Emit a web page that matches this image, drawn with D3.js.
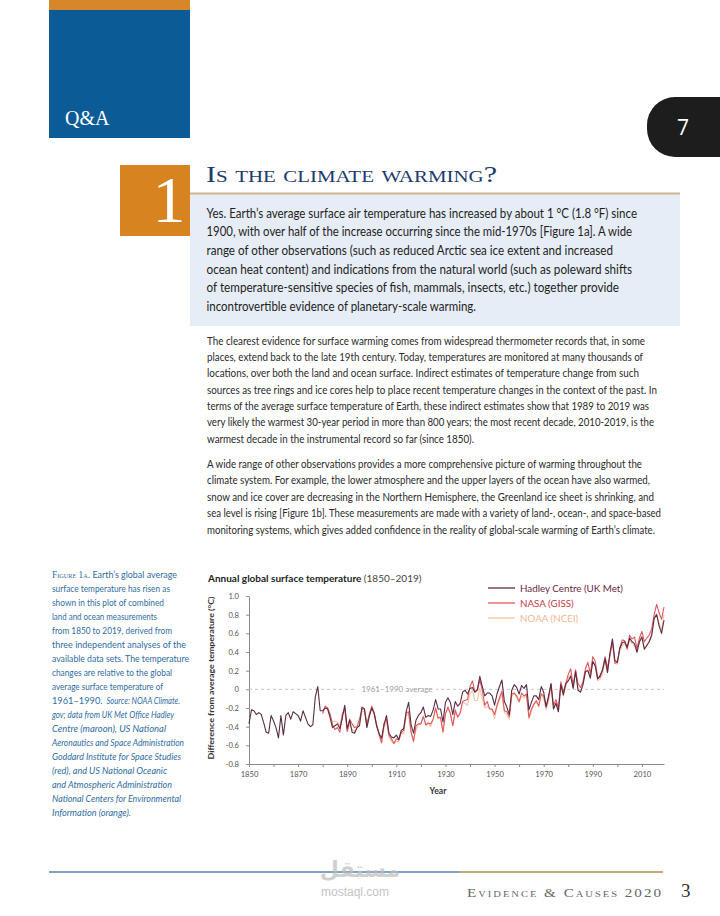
<!DOCTYPE html>
<html><head><meta charset="utf-8">
<script src="https://cdn.jsdelivr.net/npm/d3@7"></script>
<style>
html,body{margin:0;padding:0;background:#fff;}
svg{display:block;}
</style></head>
<body>
<svg id="page" width="720" height="916"></svg>
<script>
// ---------- DATA ----------
const hadleyStart = 1850;
const hadley = [
-0.37,-0.22,-0.23,-0.27,-0.25,-0.27,-0.36,-0.46,-0.47,-0.28,
-0.34,-0.41,-0.52,-0.28,-0.49,-0.28,-0.25,-0.32,-0.24,-0.26,
-0.28,-0.34,-0.23,-0.30,-0.37,-0.40,-0.38,-0.08,0.03,-0.23,
-0.23,-0.20,-0.21,-0.30,-0.41,-0.39,-0.37,-0.42,-0.31,-0.17,
-0.42,-0.33,-0.46,-0.47,-0.41,-0.39,-0.19,-0.21,-0.41,-0.29,
-0.20,-0.26,-0.40,-0.48,-0.52,-0.38,-0.28,-0.47,-0.51,-0.52,
-0.49,-0.54,-0.44,-0.42,-0.24,-0.14,-0.38,-0.47,-0.33,-0.28,
-0.25,-0.19,-0.30,-0.28,-0.29,-0.22,-0.11,-0.21,-0.21,-0.35,
-0.14,-0.09,-0.14,-0.27,-0.13,-0.18,-0.15,-0.03,-0.01,-0.05,
0.01,0.02,-0.03,0.00,0.14,0.03,-0.07,-0.04,-0.04,-0.07,
-0.17,-0.05,0.03,0.10,-0.13,-0.19,-0.27,-0.01,0.05,0.02,
-0.05,0.04,0.01,0.05,-0.22,-0.14,-0.07,-0.07,-0.11,0.03,
-0.03,-0.19,-0.07,0.06,-0.21,-0.15,-0.24,0.05,-0.06,0.06,
0.09,0.14,0.01,0.19,-0.01,-0.03,0.05,0.19,0.20,0.12,
0.30,0.25,0.11,0.15,0.21,0.33,0.18,0.39,0.54,0.31,
0.29,0.44,0.50,0.51,0.45,0.55,0.51,0.49,0.40,0.51,
0.56,0.43,0.47,0.51,0.58,0.76,0.80,0.68,0.60,0.74];

const nasaStart = 1880;
const nasa = [
-0.26,-0.18,-0.20,-0.26,-0.38,-0.43,-0.41,-0.46,-0.27,-0.20,
-0.45,-0.32,-0.37,-0.41,-0.40,-0.32,-0.21,-0.21,-0.37,-0.27,
-0.18,-0.25,-0.38,-0.47,-0.57,-0.36,-0.32,-0.49,-0.53,-0.58,
-0.53,-0.54,-0.46,-0.44,-0.25,-0.24,-0.46,-0.56,-0.39,-0.37,
-0.37,-0.29,-0.38,-0.36,-0.37,-0.32,-0.20,-0.31,-0.30,-0.46,
-0.26,-0.19,-0.26,-0.39,-0.22,-0.30,-0.25,-0.13,-0.12,-0.11,
0.03,0.09,-0.03,-0.01,0.10,-0.01,-0.17,-0.13,-0.21,-0.21,
-0.27,-0.17,-0.09,-0.02,-0.23,-0.24,-0.29,-0.05,-0.04,-0.07,
-0.13,-0.04,-0.07,-0.05,-0.30,-0.21,-0.16,-0.12,-0.18,-0.05,
-0.07,-0.18,-0.09,0.06,-0.17,-0.11,-0.20,0.08,-0.03,0.06,
0.16,0.22,0.04,0.21,0.06,0.02,0.08,0.22,0.29,0.17,
0.35,0.30,0.12,0.13,0.21,0.35,0.23,0.36,0.51,0.28,
0.29,0.44,0.53,0.52,0.43,0.58,0.54,0.56,0.44,0.55,
0.62,0.51,0.55,0.58,0.65,0.80,0.91,0.82,0.75,0.88];

const noaaStart = 1880;
const noaa = [
-0.25,-0.20,-0.20,-0.28,-0.35,-0.34,-0.35,-0.39,-0.26,-0.22,
-0.45,-0.38,-0.43,-0.45,-0.41,-0.36,-0.23,-0.24,-0.39,-0.25,
-0.20,-0.28,-0.38,-0.50,-0.58,-0.41,-0.34,-0.51,-0.56,-0.58,
-0.56,-0.56,-0.46,-0.48,-0.29,-0.25,-0.46,-0.53,-0.44,-0.38,
-0.37,-0.29,-0.39,-0.37,-0.40,-0.32,-0.21,-0.30,-0.30,-0.45,
-0.26,-0.21,-0.25,-0.39,-0.25,-0.29,-0.26,-0.14,-0.15,-0.17,
-0.05,-0.01,-0.12,-0.12,0.01,-0.10,-0.20,-0.18,-0.21,-0.22,
-0.31,-0.19,-0.12,-0.05,-0.25,-0.27,-0.32,-0.08,-0.04,-0.09,
-0.14,-0.07,-0.09,-0.06,-0.32,-0.24,-0.16,-0.14,-0.18,-0.05,
-0.10,-0.22,-0.12,0.02,-0.21,-0.14,-0.24,0.04,-0.07,0.03,
0.12,0.16,0.02,0.19,-0.01,-0.03,0.04,0.19,0.21,0.13,
0.29,0.25,0.09,0.11,0.17,0.31,0.18,0.38,0.50,0.28,
0.27,0.41,0.47,0.49,0.43,0.53,0.49,0.47,0.39,0.50,
0.57,0.44,0.48,0.52,0.59,0.77,0.81,0.71,0.63,0.80];

const seriesNames = ["Hadley Centre (UK Met)", "NASA (GISS)", "NOAA (NCEI)"];
const yTickValues = [1.0,0.8,0.6,0.4,0.2,0,-0.2,-0.4,-0.6,-0.8];
const yTickLabels = ["1.0","0.8","0.6","0.4","0.2","0","-0.2","-0.4","-0.6","-0.8"];
const xTickValues = [1850,1860,1870,1880,1890,1900,1910,1920,1930,1940,1950,1960,1970,1980,1990,2000,2010];
const xTickLabels = ["1850","","1870","","1890","","1910","","1930","","1950","","1970","","1990","","2010"];

const answerLines = [
"Yes. Earth’s average surface air temperature has increased by about 1 °C (1.8 °F) since",
"1900, with over half of the increase occurring since the mid-1970s [Figure 1a]. A wide",
"range of other observations (such as reduced Arctic sea ice extent and increased",
"ocean heat content) and indications from the natural world (such as poleward shifts",
"of temperature-sensitive species of fish, mammals, insects, etc.) together provide",
"incontrovertible evidence of planetary-scale warming."];
const answerEnds = [637,632,613,632,619,476];

const para1 = [
"The clearest evidence for surface warming comes from widespread thermometer records that, in some",
"places, extend back to the late 19th century. Today, temperatures are monitored at many thousands of",
"locations, over both the land and ocean surface. Indirect estimates of temperature change from such",
"sources as tree rings and ice cores help to place recent temperature changes in the context of the past. In",
"terms of the average surface temperature of Earth, these indirect estimates show that 1989 to 2019 was",
"very likely the warmest 30-year period in more than 800 years; the most recent decade, 2010-2019, is the",
"warmest decade in the instrumental record so far (since 1850)."];
const para1Ends = [645,643,639,657,649,654,474];
const para2 = [
"A wide range of other observations provides a more comprehensive picture of warming throughout the",
"climate system. For example, the lower atmosphere and the upper layers of the ocean have also warmed,",
"snow and ice cover are decreasing in the Northern Hemisphere, the Greenland ice sheet is shrinking, and",
"sea level is rising [Figure 1b]. These measurements are made with a variety of land-, ocean-, and space-based",
"monitoring systems, which gives added confidence in the reality of global-scale warming of Earth’s climate."];
const para2Ends = [642,650,654,661,655];

// each caption line: list of [style, text, startX, endX]
const captionLines = [
[["sc","Figure 1a.",52,90],["n","Earth’s global average",92.5,177]],
[["n","surface temperature has risen as",52,170]],
[["n","shown in this plot of combined",52,164]],
[["n","land and ocean measurements",52,157]],
[["n","from 1850 to 2019, derived from",52,172]],
[["n","three independent analyses of the",52,186]],
[["n","available data sets. The temperature",52,189]],
[["n","changes are relative to the global",52,172]],
[["n","average surface temperature of",52,163]],
[["n","1961–1990.",52,102.5],["i","Source: NOAA Climate.",106.5,180]],
[["i","gov; data from UK Met Office Hadley",52,174]],
[["i","Centre (maroon), US National",52,166]],
[["i","Aeronautics and Space Administration",52,184]],
[["i","Goddard Institute for Space Studies",52,181]],
[["i","(red), and US National Oceanic",52,167]],
[["i","and Atmospheric Administration",52,172]],
[["i","National Centers for Environmental",52,181]],
[["i","Information (orange).",52,131]]];

// ---------- DRAW ----------
const svg = d3.select("#page");
svg.append("rect").attr("width",720).attr("height",916).attr("fill","#fff");

// header blocks
svg.append("rect").attr("x",49).attr("y",0).attr("width",141).attr("height",10).attr("fill","#d8862a");
svg.append("rect").attr("x",49).attr("y",10).attr("width",141).attr("height",128).attr("fill","#0b5b96");
svg.append("text").attr("x",65).attr("y",125).attr("fill","#fff")
  .attr("font-family","Liberation Serif, serif").attr("font-size",20).text("Q&A");

// black page tab
svg.append("rect").attr("x",647).attr("y",97).attr("width",110).attr("height",60).attr("rx",28).attr("fill","#1d1d1d");
svg.append("text").attr("x",683).attr("y",135).attr("text-anchor","middle").attr("fill","#fff")
  .attr("font-family","Open Sans, sans-serif").attr("font-size",21).text("7");

// question block
svg.append("rect").attr("x",120).attr("y",165).attr("width",70).attr("height",71).attr("fill","#d7831f");
svg.append("text").attr("x",169).attr("y",222).attr("text-anchor","middle").attr("fill","#fff")
  .attr("font-family","Liberation Serif, serif").attr("font-size",66).text("1");
svg.append("text").attr("x",206).attr("y",182).attr("fill","#1c3a6c")
  .attr("font-family","Liberation Serif, serif").attr("font-size",23)
  .style("font-variant","small-caps").attr("textLength",291).attr("lengthAdjust","spacingAndGlyphs")
  .text("Is the climate warming?");
svg.append("rect").attr("x",190).attr("y",194).attr("width",490).attr("height",132).attr("fill","#e6edf6");
svg.append("line").attr("x1",190).attr("x2",680).attr("y1",193.5).attr("y2",193.5).attr("stroke","#cdb58e").attr("stroke-width",2);

answerLines.forEach((t,i)=>{
  svg.append("text").attr("x",206.5).attr("y",217.5+i*18.7).attr("fill","#1e1e1e")
    .attr("font-family","Lato, sans-serif").attr("font-size",12.6)
    .attr("textLength",answerEnds[i]-206.5).attr("lengthAdjust","spacingAndGlyphs").text(t);
});

// body paragraphs
para1.forEach((t,i)=>{
  svg.append("text").attr("x",207).attr("y",344.5+i*16.35).attr("fill","#2a2a2a")
    .attr("font-family","Lato, sans-serif").attr("font-size",10.6)
    .attr("textLength",para1Ends[i]-207).attr("lengthAdjust","spacingAndGlyphs").text(t);
});
para2.forEach((t,i)=>{
  svg.append("text").attr("x",207).attr("y",468+i*16.4).attr("fill","#2a2a2a")
    .attr("font-family","Lato, sans-serif").attr("font-size",10.6)
    .attr("textLength",para2Ends[i]-207).attr("lengthAdjust","spacingAndGlyphs").text(t);
});

// caption
captionLines.forEach((parts,i)=>{
  const yy = 578 + i*14.0;
  parts.forEach(p=>{
    const t = svg.append("text").attr("x",p[2]).attr("y",yy).attr("fill","#2f6c9f")
      .attr("font-family","Lato, sans-serif").attr("font-size",10)
      .attr("textLength",p[3]-p[2]).attr("lengthAdjust","spacingAndGlyphs").text(p[1]);
    if(p[0]==="i") t.attr("font-style","italic");
    if(p[0]==="sc") t.style("font-variant","small-caps").attr("font-family","Liberation Serif, serif").attr("font-size",10.5);
  });
});

// ---------- CHART ----------
const x = d3.scaleLinear().domain([1850,2019]).range([249,664]);
const y = d3.scaleLinear().domain([-0.8,1.0]).range([764,596]);
const g = svg.append("g");

// title
const title = g.append("text").attr("x",208).attr("y",581.5).attr("fill","#222")
  .attr("font-family","Lato, sans-serif").attr("font-size",10);
title.append("tspan").attr("font-weight","bold").text("Annual global surface temperature");
title.append("tspan").attr("fill","#444").text(" (1850–2019)");

// axes
const yAxis = d3.axisLeft(y).tickValues(yTickValues).tickFormat((d,i)=>yTickLabels[i]).tickSize(3).tickSizeOuter(0).tickPadding(7);
const gy = g.append("g").attr("transform","translate(249,0)").call(yAxis);
gy.select(".domain").attr("stroke","#8a8a8a");
gy.selectAll(".tick line").attr("stroke","#8a8a8a");
gy.selectAll(".tick text").attr("fill","#555").attr("font-family","Lato, sans-serif").attr("font-size",7.6);

const xAxis = d3.axisBottom(x).tickValues(xTickValues).tickFormat((d,i)=>xTickLabels[i]).tickSize(3).tickSizeOuter(0).tickPadding(5);
const gx = g.append("g").attr("transform","translate(0,764)").call(xAxis);
gx.select(".domain").attr("stroke","#8a8a8a");
gx.selectAll(".tick line").attr("stroke","#8a8a8a");
gx.selectAll(".tick text").attr("fill","#555").attr("font-family","Lato, sans-serif").attr("font-size",7.6);

g.append("text").attr("x",438).attr("y",794).attr("text-anchor","middle").attr("fill","#333")
  .attr("font-family","Lato, sans-serif").attr("font-weight","bold").attr("font-size",8.6).text("Year");
g.append("text").attr("transform","translate(214,678) rotate(-90)").attr("text-anchor","middle").attr("fill","#333")
  .attr("font-family","Lato, sans-serif").attr("font-weight","bold").attr("font-size",8.4)
  .attr("textLength",163).attr("lengthAdjust","spacingAndGlyphs")
  .text("Difference from average temperature (°C)");

// zero reference
g.append("line").attr("x1",x(1850)).attr("x2",x(2019)).attr("y1",y(0)).attr("y2",y(0))
  .attr("stroke","#bdbdbd").attr("stroke-width",0.9).attr("stroke-dasharray","3,3");
g.append("rect").attr("x",357).attr("y",y(0)-5).attr("width",79).attr("height",10).attr("fill","#fff");
g.append("text").attr("x",397).attr("y",y(0)+3).attr("text-anchor","middle").attr("fill","#9a9a9a")
  .attr("font-family","Lato, sans-serif").attr("font-size",8).text("1961–1990 average");

// lines
const colors = ["#5a2c44","#e0585e","#f6c3a0"];
const line = d3.line().x(d=>x(d[0])).y(d=>y(d[1]));
const toPts = (arr,start)=>arr.map((v,i)=>[start+i,v]);
const series = [toPts(hadley,hadleyStart), toPts(nasa,nasaStart), toPts(noaa,noaaStart)];
[2,1,0].forEach(k=>{
  g.append("path").datum(series[k]).attr("d",line).attr("fill","none")
    .attr("stroke",colors[k]).attr("stroke-width",1.1).attr("stroke-linejoin","round");
});

// legend
const legendText = ["#6a2848","#c23c4c","#f2b893"];
seriesNames.forEach((n,i)=>{
  const yy = 588 + i*15;
  g.append("line").attr("x1",488).attr("x2",515).attr("y1",yy).attr("y2",yy).attr("stroke",colors[i]).attr("stroke-width",1.3);
  g.append("text").attr("x",520).attr("y",yy+3.5).attr("fill",legendText[i])
    .attr("font-family","Lato, sans-serif").attr("font-size",9.8).text(n);
});

// ---------- FOOTER ----------
svg.append("line").attr("x1",49).attr("x2",459).attr("y1",872).attr("y2",872).attr("stroke","#7ea3c8").attr("stroke-width",2);
svg.append("line").attr("x1",459).attr("x2",663).attr("y1",872).attr("y2",872).attr("stroke","#c6a878").attr("stroke-width",2);
svg.append("text").attr("x",360).attr("y",877).attr("text-anchor","middle").attr("fill","#bdbdbd").attr("opacity",0.7)
  .attr("font-family","DejaVu Sans, sans-serif").attr("font-weight","bold").attr("font-size",22).text("مستقل");
svg.append("text").attr("x",355).attr("y",896).attr("text-anchor","middle").attr("fill","#c4c4c4")
  .attr("font-family","Liberation Sans, sans-serif").attr("font-size",12).text("mostaql.com");
svg.append("text").attr("x",467).attr("y",896.5).attr("fill","#666")
  .attr("font-family","Liberation Serif, serif").attr("font-size",11.5).style("font-variant","small-caps")
  .attr("letter-spacing",1.5)
  .attr("textLength",196).attr("lengthAdjust","spacingAndGlyphs").text("Evidence & Causes 2020");
svg.append("text").attr("x",681).attr("y",897).attr("fill","#333")
  .attr("font-family","Liberation Serif, serif").attr("font-size",19).text("3");
</script>
</body></html>
